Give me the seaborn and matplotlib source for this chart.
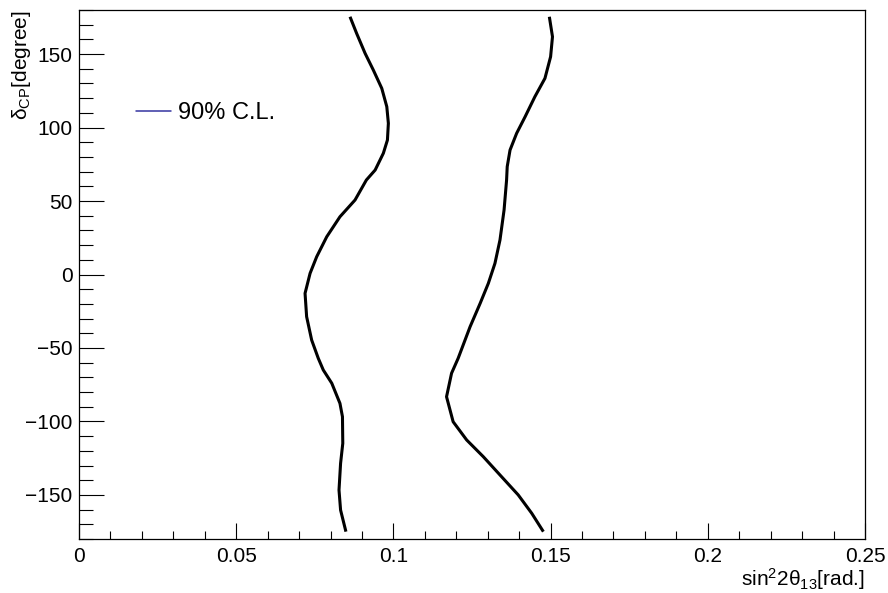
import matplotlib
matplotlib.use("Agg")
import matplotlib.pyplot as plt
from matplotlib.lines import Line2D
from matplotlib.ticker import MultipleLocator
import seaborn as sns
import pandas as pd

# Left boundary of the 90% C.L. contour (sin^2 2theta13, deltaCP)
left_delta = [-175, -160.3, -146.7, -128.5, -114.9, -96.8, -87.7, -74, -65, -57.0, -44.6,
              -28.7, -12.8, 0.8, 12.1, 25.7, 39.3, 50.7, 64.3, 71.1, 82.5, 91.5, 102.9,
              114.2, 126.7, 139.2, 150.5, 164.1, 175.4]
left_s2t = [0.0849, 0.0832, 0.0827, 0.0832, 0.0839, 0.0838, 0.0830, 0.0804, 0.0777, 0.0761, 0.0740,
            0.0724, 0.0719, 0.0735, 0.0756, 0.0788, 0.0830, 0.0878, 0.0914, 0.0942, 0.0968, 0.0981,
            0.0984, 0.0979, 0.0963, 0.0936, 0.0910, 0.0883, 0.0862]

# Right boundary
right_delta = [-175, -162.5, -150, -137.6, -124, -112.6, -100.2, -83.2, -67.2, -57.0, -35.5,
               -19.6, -6.0, 7.6, 23.5, 43.9, 64.3, 73.4, 84.7, 96.1, 107.4, 121, 133.5,
               148.2, 161.8, 175.4]
right_s2t = [0.1477, 0.1440, 0.1397, 0.1344, 0.1286, 0.1233, 0.1190, 0.1169, 0.1185, 0.1206, 0.1244,
             0.1276, 0.1302, 0.1323, 0.1339, 0.1352, 0.1360, 0.1362, 0.1371, 0.1392, 0.1419, 0.1450,
             0.1482, 0.1500, 0.1506, 0.1496]

x_ticks = [0, 0.05, 0.1, 0.15, 0.2, 0.25]
x_ticklabels = ["0", "0.05", "0.1", "0.15", "0.2", "0.25"]
y_ticks = [-150, -100, -50, 0, 50, 100, 150]

sns.set_theme(style="white")
plt.rcParams['font.family'] = ['Liberation Sans', 'DejaVu Sans']
plt.rcParams['mathtext.fontset'] = 'custom'
plt.rcParams['mathtext.rm'] = 'Liberation Sans'
plt.rcParams['mathtext.it'] = 'Liberation Sans'
plt.rcParams['mathtext.default'] = 'rm'
plt.rcParams['text.color'] = 'black'
plt.rcParams['axes.labelcolor'] = 'black'
plt.rcParams['xtick.color'] = 'black'
plt.rcParams['ytick.color'] = 'black'
plt.rcParams['xtick.labelcolor'] = 'black'
plt.rcParams['ytick.labelcolor'] = 'black'

fig = plt.figure(figsize=(8.88, 5.93), dpi=100)
ax = fig.add_axes([79/888, 54/593, 786/888, 529/593])

df_left = pd.DataFrame({"s2t": left_s2t, "delta": left_delta})
df_right = pd.DataFrame({"s2t": right_s2t, "delta": right_delta})
for df in (df_left, df_right):
    sns.lineplot(data=df, x="s2t", y="delta", sort=False, estimator=None,
                 color="black", linewidth=2.2, ax=ax,
                 solid_joinstyle='round', solid_capstyle='butt')

ax.set_xlim(0, 0.25)
ax.set_ylim(-180, 180)
ax.set_xticks(x_ticks)
ax.set_xticklabels(x_ticklabels)
ax.set_yticks(y_ticks)
ax.xaxis.set_minor_locator(MultipleLocator(0.01))
ax.yaxis.set_minor_locator(MultipleLocator(10))

ax.tick_params(axis='y', which='major', direction='in', length=18, width=0.8,
               labelsize=15, pad=4.5, left=True, right=False, colors='black')
ax.tick_params(axis='y', which='minor', direction='in', length=10, width=0.8,
               left=True, right=False, colors='black')
ax.tick_params(axis='x', which='major', direction='in', length=11.5, width=0.8,
               labelsize=15, pad=5.5, bottom=True, top=False, colors='black')
ax.tick_params(axis='x', which='minor', direction='in', length=6, width=0.8,
               bottom=True, top=False, colors='black')

for s in ax.spines.values():
    s.set_color('black')
    s.set_linewidth(0.9)

ax.set_xlabel(r'sin$^{2}$2θ$_{13}$[rad.]', fontsize=15, loc='right', color='black')
ax.xaxis.set_label_coords(1.0, -0.052)
ax.set_ylabel(r'δ$_{\mathrm{CP}}$[degree]', fontsize=15, loc='top', color='black')
ax.yaxis.set_label_coords(-0.059, 1.0)

handle = Line2D([], [], color='#3434a0', linewidth=1.1)
leg = ax.legend([handle], ['90% C.L.'], loc='center left', bbox_to_anchor=(0.0725, 0.805),
                frameon=False, fontsize=17, handlelength=1.5, handletextpad=0.3,
                borderpad=0, borderaxespad=0)
for t in leg.get_texts():
    t.set_color('black')

fig.savefig("out.png", dpi=100, facecolor='white')
